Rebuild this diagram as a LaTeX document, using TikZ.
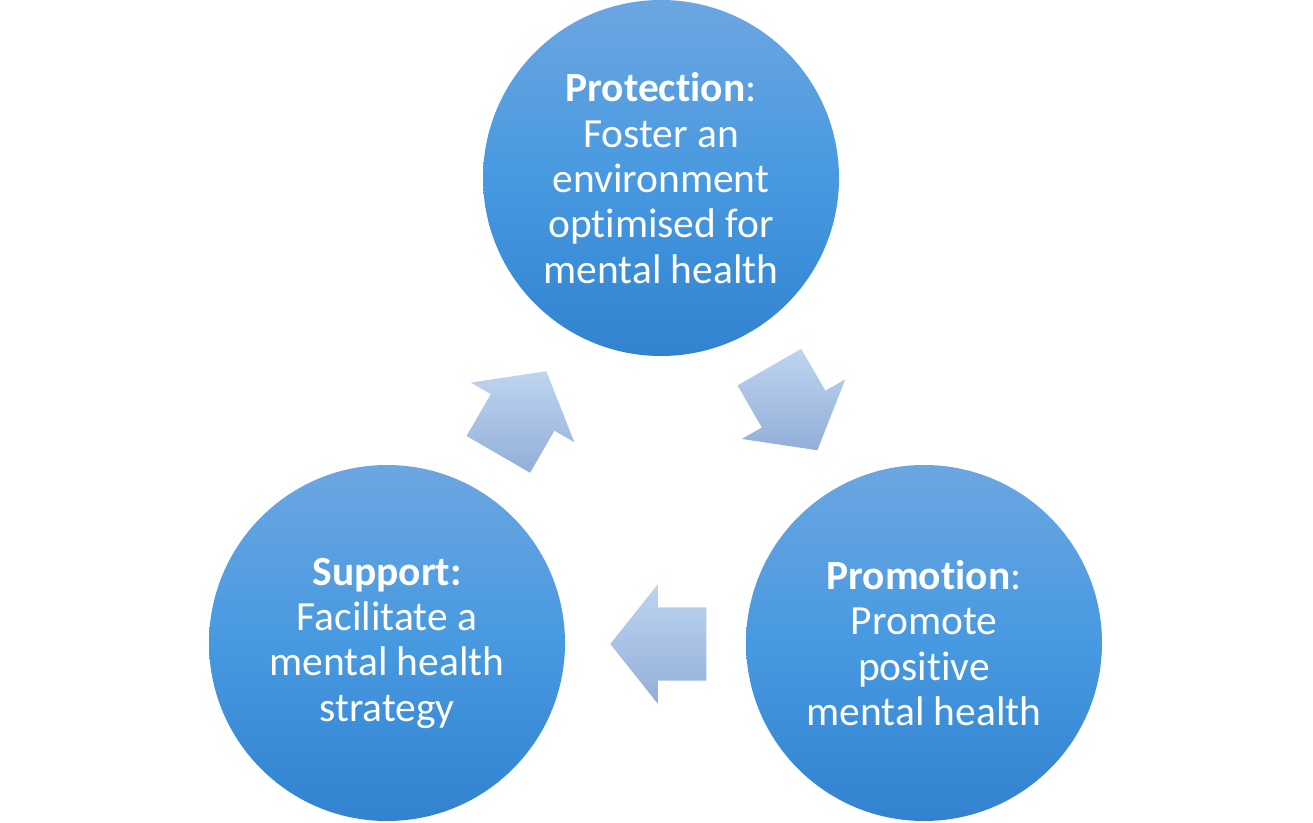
\documentclass[tikz,border=0pt]{standalone}
\usepackage{fontspec}
\setmainfont{Carlito}[Ligatures=NoCommon]
\usepackage{tikz}
\usetikzlibrary{shapes.arrows}

\definecolor{circtop}{HTML}{6CA6E1}
\definecolor{circmid}{HTML}{4799E0}
\definecolor{circbot}{HTML}{3282D0}
\definecolor{arrtop}{HTML}{BED4F0}
\definecolor{arrbot}{HTML}{93AFD8}

\begin{document}
\begin{tikzpicture}[
  stage/.style={circle,inner sep=0pt,minimum size=3.56cm,top color=circtop,bottom color=circbot,middle color=circmid,
    text=white,align=center,font=\fontsize{11.8}{12.9}\selectfont},
  turn/.style={single arrow,anchor=tail,inner xsep=0pt,inner ysep=0.36cm,minimum height=0.96cm,
    single arrow head extend=0.23cm,single arrow tip angle=103,top color=arrtop,bottom color=arrbot,
    rotate=#1}]
  \useasboundingbox (0,0) rectangle (13.13,8.22);
  % the three stages
  \node[stage] (prot) at (6.61,6.44) {\textbf{Protection}:\\Foster an\\environment\\optimised for\\mental health};
  \node[stage] (supp) at (3.87,1.79) {\textbf{Support:}\\Facilitate a\\mental health\\strategy};
  \node[stage] (promo) at (9.24,1.79) {\textbf{Promotion}:\\Promote\\positive\\mental health};
  % arrows between them
  \node[turn=60] (a1) at (4.98,3.67) {};
  \node[turn=-60] (a2) at (7.69,4.555) {};
  \node[turn=180] (a3) at (7.07,1.78) {};
\end{tikzpicture}
\end{document}
